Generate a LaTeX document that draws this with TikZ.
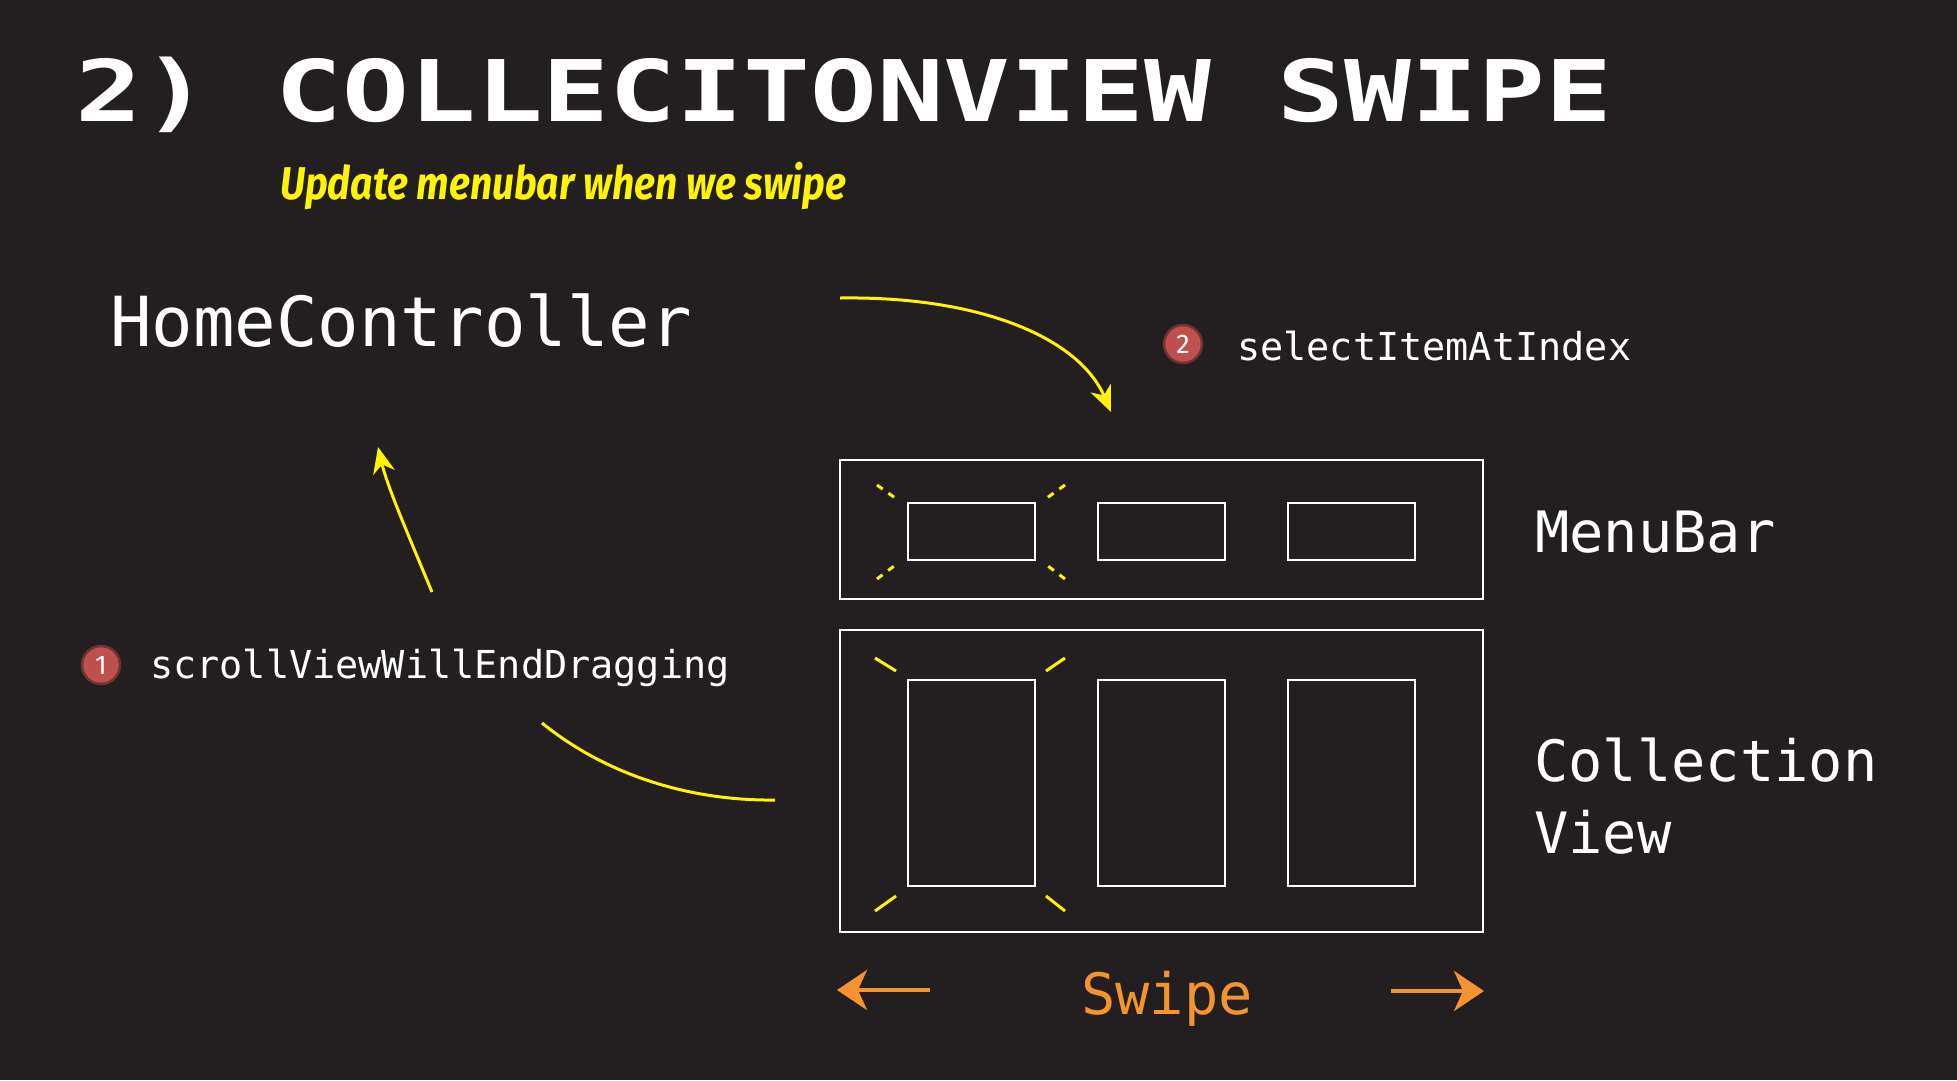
\documentclass[tikz,border=0pt]{standalone}
\usepackage{fontspec}
\usepackage{graphicx}
\usetikzlibrary{arrows.meta,calc}
\newfontfamily\monof{DejaVu Sans Mono}
\newfontfamily\titlef{DejaVu Sans Mono}
\newfontfamily\handf{Fira Sans}
\definecolor{bg}{HTML}{231F20}
\definecolor{ylw}{HTML}{FFF500}
\definecolor{org}{HTML}{F5942E}
\definecolor{badgered}{HTML}{C0504D}
\definecolor{badgering}{HTML}{6E3432}
\begin{document}
\begin{tikzpicture}[x=1pt,y=-1pt,
  wbox/.style={draw=white,line width=2pt,inner sep=0pt,outer sep=0pt},
  txt/.style={text=white,inner sep=0pt,anchor=base west},
  badge/.style={circle,fill=badgered,draw=badgering,line width=2.5pt,minimum size=38pt,inner sep=0pt,text=white,font=\handf\fontsize{27}{27}\selectfont},
  yarrow/.style={draw=ylw,line width=3pt,-{Stealth[length=26pt,width=22pt,inset=8pt]}},
  yline/.style={draw=ylw,line width=3pt},
  spark/.style={draw=ylw,line width=3pt},
  dspark/.style={draw=ylw,line width=3pt,dash pattern=on 7pt off 7pt},
  oarrow/.style={draw=org,line width=4pt,-{Stealth[length=30pt,width=40pt,inset=9pt]}}]
\fill[bg] (0,0) rectangle (1957,1080);
\useasboundingbox (0,0) rectangle (1957,1080);

% title
\node[txt] (title) at (75,121) {\resizebox{1537pt}{\height}{\titlef\bfseries\fontsize{85}{85}\selectfont 2) COLLECITONVIEW SWIPE}};
\node[txt,text=ylw] (sub) at (280,199) {\resizebox{566pt}{\height}{\handf\bfseries\itshape\fontsize{46}{46}\selectfont Update menubar when we swipe}};

% labels
\node[txt,font=\monof\fontsize{69}{69}\selectfont] (home) at (110,346) {HomeController};
\node[badge] (b2) at (1183,344) {2};
\node[txt,font=\monof\fontsize{38.5}{38.5}\selectfont] (sel) at (1237,360) {selectItemAtIndex};
\node[badge] (b1) at (101,665) {1};
\node[txt,font=\monof\fontsize{38.5}{38.5}\selectfont] (scroll) at (150,678) {scrollViewWillEndDragging};
\node[txt,font=\monof\fontsize{57}{57}\selectfont] (mblabel) at (1535,552) {MenuBar};
\node[txt,font=\monof\fontsize{57}{57}\selectfont] (cvlabel1) at (1534,781) {Collection};
\node[txt,font=\monof\fontsize{57}{57}\selectfont] (cvlabel2) at (1534,853) {View};
\node[txt,text=org,font=\monof\fontsize{57}{57}\selectfont] (swipe) at (1081,1014) {Swipe};

% menubar
\node[wbox,minimum width=643pt,minimum height=139pt] (menubar) at (1161.5,529.5) {};
\node[wbox,minimum width=127pt,minimum height=57pt] (m1) at (971.5,531.5) {};
\node[wbox,minimum width=127pt,minimum height=57pt] (m2) at (1161,531.5) {};
\node[wbox,minimum width=127pt,minimum height=57pt] (m3) at (1351,531.5) {};

% collection view
\node[wbox,minimum width=643pt,minimum height=302pt] (coll) at (1161.5,781) {};
\node[wbox,minimum width=127pt,minimum height=206pt] (c1) at (971.5,783) {};
\node[wbox,minimum width=127pt,minimum height=206pt] (c2) at (1161,783) {};
\node[wbox,minimum width=127pt,minimum height=206pt] (c3) at (1351,783) {};

% sparkles menubar
\draw[dspark] ($(m1.north west)+(-31,-18)$) -- ($(m1.north west)+(-10,-3)$);
\draw[dspark] ($(m1.north east)+(30,-18)$) -- ($(m1.north east)+(9,-3)$);
\draw[dspark] ($(m1.south west)+(-31,19)$) -- ($(m1.south west)+(-10,3)$);
\draw[dspark] ($(m1.south east)+(30,19)$) -- ($(m1.south east)+(9,3)$);

% sparkles collection
\draw[spark] ($(c1.north west)+(-33,-22)$) -- ($(c1.north west)+(-12,-9)$);
\draw[spark] ($(c1.north east)+(30,-22)$) -- ($(c1.north east)+(11,-9)$);
\draw[spark] ($(c1.south west)+(-33,25)$) -- ($(c1.south west)+(-12,10)$);
\draw[spark] ($(c1.south east)+(30,25)$) -- ($(c1.south east)+(11,10)$);

% yellow connectors
\coordinate (a1s) at (840,298);
\coordinate (a1e) at (1111,412);
\draw[yarrow] (a1s) .. controls (985,296) and (1080,340) .. (a1e);
\coordinate (a2s) at (432,592);
\coordinate (a2e) at (378,447);
\draw[yarrow] (a2s) .. controls (404,525) and (387,485) .. (a2e);
\coordinate (a3s) at (775,800);
\coordinate (a3e) at (542,723);
\draw[yline] (a3s) .. controls (695,801) and (610,778) .. (a3e);

% swipe arrows
\coordinate (sl1) at (930,990);
\coordinate (sl2) at (837,990);
\draw[oarrow] (sl1) -- (sl2);
\coordinate (sr1) at (1391,991);
\coordinate (sr2) at (1484,991);
\draw[oarrow] (sr1) -- (sr2);
\end{tikzpicture}
\end{document}
